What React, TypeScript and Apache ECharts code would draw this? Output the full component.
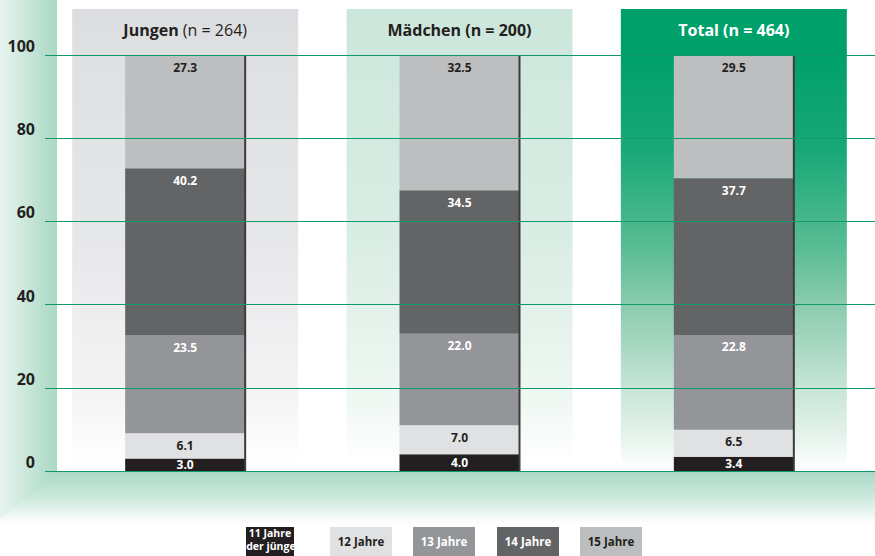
import React, { useEffect, useRef } from 'react';
import * as echarts from 'echarts';

const groups = ['Jungen', 'Mädchen', 'Total'];
const groupN = [264, 200, 464];
const ageClasses = ['11 Jahre\noder jünger', '12 Jahre', '13 Jahre', '14 Jahre', '15 Jahre'];
const age11 = [3.0, 4.0, 3.4];
const age12 = [6.1, 7.0, 6.5];
const age13 = [23.5, 22.0, 22.8];
const age14 = [40.2, 34.5, 37.7];
const age15 = [27.3, 32.5, 29.5];
const yMin = 0;
const yMax = 100;
const yInterval = 20;

const seriesValues = [age11, age12, age13, age14, age15];
const barColors = ['#231f20', '#e0e1e3', '#939598', '#636466', '#bcbec0'];
const labelColors = ['#ffffff', '#231f20', '#ffffff', '#ffffff', '#231f20'];
const FONT = "'Open Sans', 'Noto Sans', sans-serif";

const panelGradients = [
  [
    [0, '#dcdde0'], [0.1, '#dfe0e2'], [0.5, '#e6e7e9'], [0.85, '#f4f4f5'], [1, '#ffffff'],
  ],
  [
    [0, '#cbe6da'], [0.1, '#cfe8dd'], [0.5, '#d9ede4'], [0.85, '#eef7f2'], [1, '#ffffff'],
  ],
  [
    [0, '#00a06a'], [0.1, '#00a06a'], [0.31, '#18a877'], [0.53, '#5bbd95'], [0.64, '#86c9ab'],
    [0.81, '#bfe2d1'], [0.95, '#e8f4ee'], [1, '#fafdfb'],
  ],
];

function grad(stops: any[], horizontal = false) {
  return {
    type: 'linear',
    x: 0,
    y: 0,
    x2: horizontal ? 1 : 0,
    y2: horizontal ? 0 : 1,
    colorStops: stops.map(([offset, color]) => ({ offset, color })),
  };
}

export default function App() {
  const ref = useRef<HTMLDivElement>(null);

  useEffect(() => {
    document.body.style.margin = '0';
    if (!ref.current) return;
    const chart = echarts.init(ref.current, null, { renderer: 'svg' });

    const series = seriesValues.map((vals, i) => ({
      name: ageClasses[i],
      type: 'bar',
      stack: 'total',
      xAxisIndex: 1,
      yAxisIndex: 1,
      barWidth: 120,
      data: vals,
      itemStyle: { color: barColors[i] },
      label: {
        show: true,
        position: i === 0 ? 'inside' : 'insideTop',
        distance: 6,
        formatter: (p: any) => Number(p.value).toFixed(1),
        fontFamily: FONT,
        fontSize: 12,
        fontWeight: 'bold',
        color: labelColors[i],
      },
    }));

    chart.setOption({
      animation: false,
      backgroundColor: '#ffffff',
      grid: [
        { left: 45, right: 0, top: 55, bottom: 85 },
        { left: 48, right: 4, top: 55, bottom: 85 },
      ],
      xAxis: [
        { type: 'category', data: groups, show: false, gridIndex: 0 },
        { type: 'category', data: groups, show: false, gridIndex: 1 },
      ],
      yAxis: [
        {
          type: 'value',
          gridIndex: 0,
          min: yMin,
          max: yMax,
          interval: yInterval,
          z: 5,
          axisLine: { show: false },
          axisTick: { show: false },
          splitLine: { show: true, lineStyle: { color: '#109a6c', width: 1 } },
          axisLabel: {
            margin: 10,
            fontFamily: FONT,
            fontSize: 16,
            fontWeight: 'bold',
            color: '#231f20',
            verticalAlign: 'bottom',
            lineHeight: 18,
          },
        },
        {
          type: 'value',
          gridIndex: 1,
          min: yMin,
          max: yMax,
          interval: yInterval,
          show: false,
          splitLine: { show: false },
        },
      ],
      series,
    });

    const cx = groups.map((g) => chart.convertToPixel({ xAxisIndex: 1 }, g) as number);
    const yBot = chart.convertToPixel({ yAxisIndex: 1 }, yMin) as number;
    const totals = groups.map((_, gi) => seriesValues.reduce((s, arr) => s + arr[gi], 0));

    const graphics: any[] = [];
    // floor
    graphics.push({
      type: 'rect',
      z: 0,
      shape: { x: 0, y: yBot + 1, width: 875, height: 52 },
      style: { fill: grad([[0, '#a9d9c5'], [0.5, '#cdeadd'], [1, '#ffffff']]) },
    });
    // left wall
    graphics.push({
      type: 'polygon',
      z: 0,
      shape: { points: [[0, 0], [57, 0], [57, yBot + 1], [0, yBot + 48]] },
      style: { fill: grad([[0, '#e8f4ef'], [1, '#a8d8c3']], true) },
    });

    groups.forEach((g, i) => {
      graphics.push({
        type: 'rect',
        z: 0,
        shape: { x: cx[i] - 113, y: 9, width: 226, height: yBot - 17 },
        style: { fill: grad(panelGradients[i]) },
      });
      const isJ = i === 0;
      graphics.push({
        type: 'text',
        z: 3,
        x: cx[i],
        y: 30,
        style: {
          text: isJ
            ? `{b|${g}} {n|(n = ${groupN[i]})}`
            : `${g} (n = ${groupN[i]})`,
          rich: isJ
            ? {
                b: { fontFamily: FONT, fontSize: 16, fontWeight: 'bold', fill: '#231f20' },
                n: { fontFamily: FONT, fontSize: 16, fontWeight: 'normal', fill: '#231f20' },
              }
            : undefined,
          fontFamily: FONT,
          fontSize: 16,
          fontWeight: 'bold',
          fill: i === 2 ? '#ffffff' : '#231f20',
          align: 'center',
          verticalAlign: 'middle',
        },
      });
      const yTopBar = chart.convertToPixel({ yAxisIndex: 1 }, Math.min(totals[i], yMax)) as number;
      graphics.push({
        type: 'rect',
        z: 3,
        shape: { x: cx[i] + 59, y: yTopBar, width: 2, height: yBot - yTopBar },
        style: { fill: '#3c3c3e' },
      });
    });

    // legend
    const legendLeft = [246, 330, 413, 497, 580];
    ageClasses.forEach((name, i) => {
      const w = i === 0 ? 48 : 62;
      graphics.push({
        type: 'rect',
        z: 3,
        shape: { x: legendLeft[i], y: 527, width: w, height: 32 },
        style: { fill: barColors[i] },
      });
      graphics.push({
        type: 'text',
        z: 4,
        x: legendLeft[i] + w / 2,
        y: i === 0 ? 539 : 541,
        style: {
          text: name,
          fontFamily: FONT,
          fontSize: i === 0 ? 10.5 : 11.5,
          fontWeight: 'bold',
          lineHeight: 13,
          fill: labelColors[i],
          align: 'center',
          verticalAlign: 'middle',
        },
      });
    });

    chart.setOption({ graphic: graphics });

    return () => chart.dispose();
  }, []);

  return <div ref={ref} style={{ width: 875, height: 556 }} />;
}
